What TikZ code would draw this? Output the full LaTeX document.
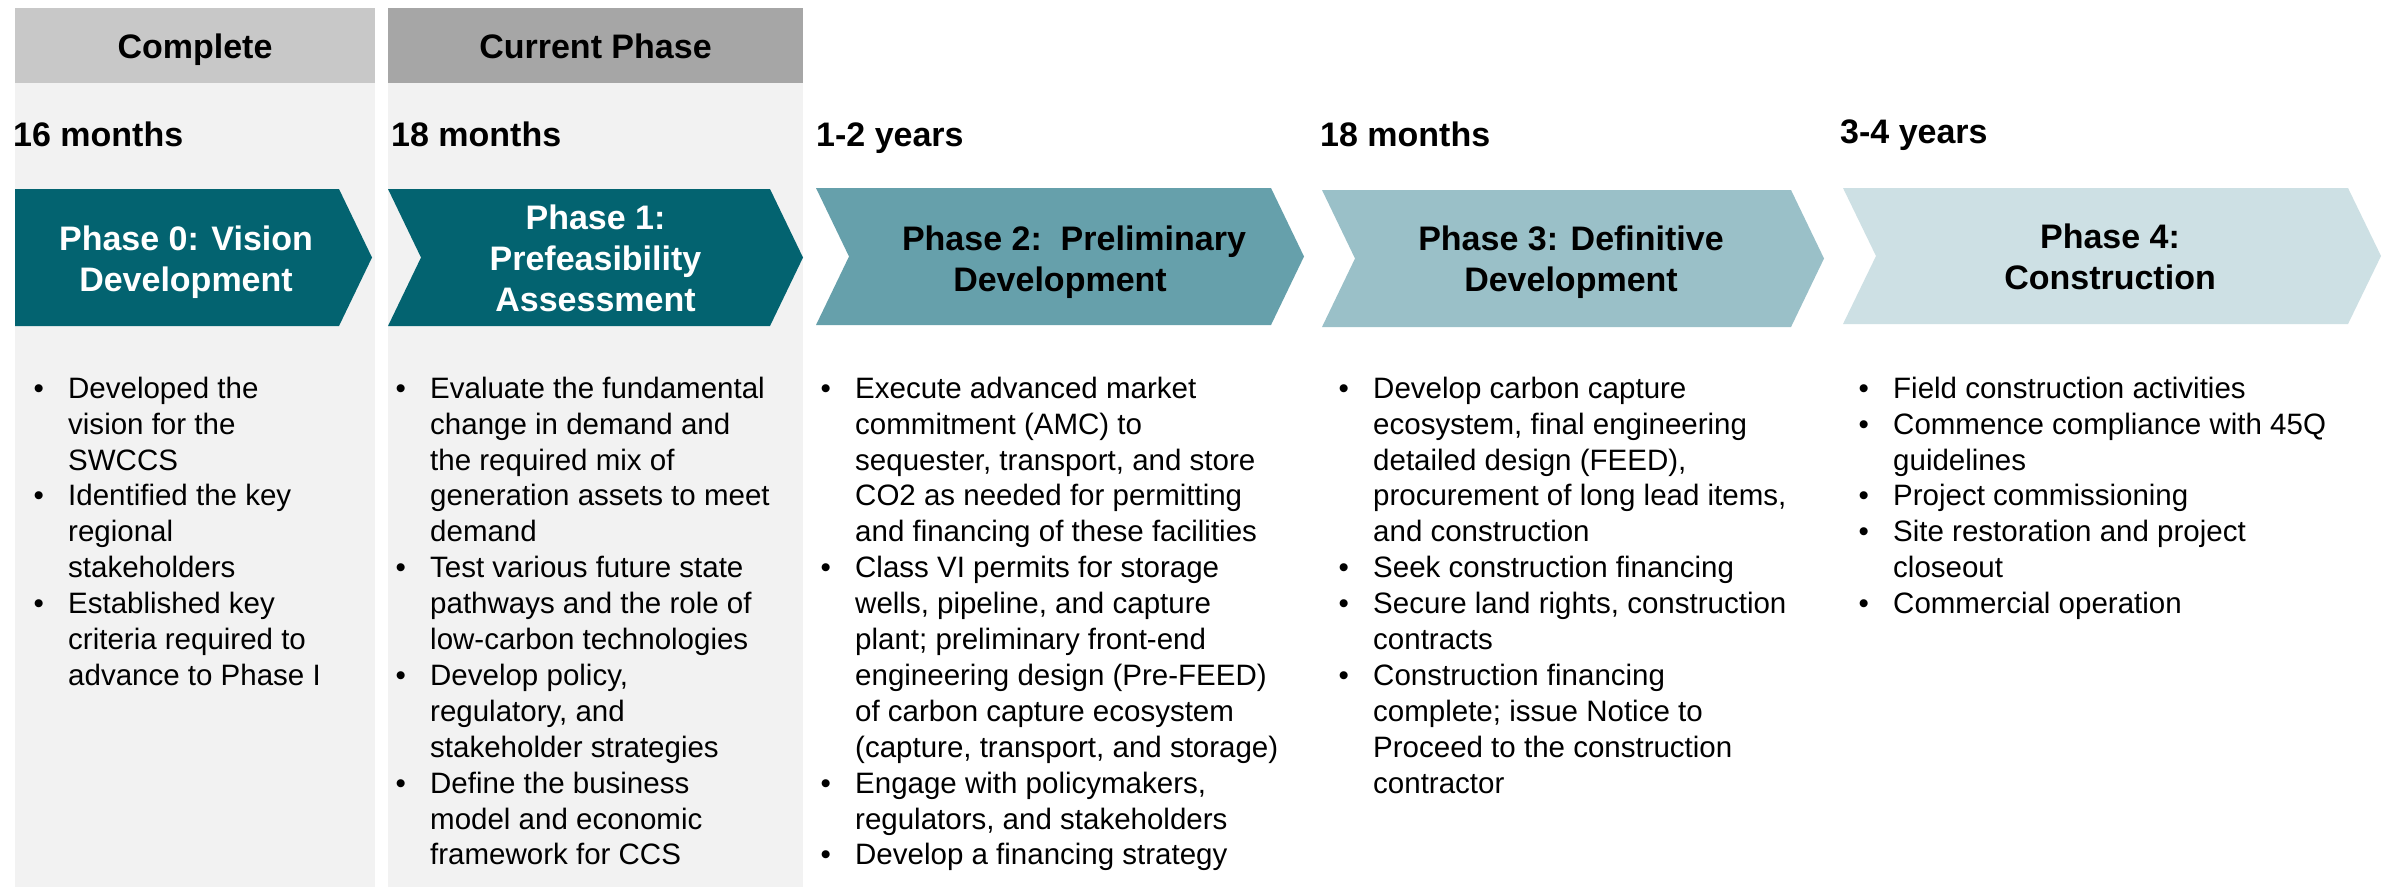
\documentclass[tikz,border=0pt]{standalone}
\usepackage{fontspec}
\setmainfont{Liberation Sans}
\definecolor{hdrdone}{HTML}{C8C8C8}
\definecolor{hdrnow}{HTML}{A6A6A6}
\definecolor{panel}{HTML}{F2F2F2}
\definecolor{tealA}{HTML}{036370}
\definecolor{tealB}{HTML}{66A0AB}
\definecolor{tealC}{HTML}{9AC0C8}
\definecolor{tealD}{HTML}{CDE0E4}
\newcommand{\phbul}{\llap{\makebox[34.5pt][l]{•}}}
\tikzset{
  heading/.style={font=\bfseries\fontsize{34}{41}\selectfont, inner sep=0pt},
  duration/.style={heading, anchor=base west},
  phasetext/.style={heading, align=center, anchor=north},
  bullets/.style={font=\fontsize{29.5}{35.9}\selectfont, align=left, anchor=north west, inner sep=0pt}
}
\begin{document}
\begin{tikzpicture}[x=1pt, y=-1pt]
\useasboundingbox (0,0) rectangle (2389,887);
\fill[white] (0,0) rectangle (2389,887);

% column backgrounds for the finished and current phases
\fill[panel] (15,83) rectangle (375,887);
\fill[panel] (388,83) rectangle (803,887);

% status headers
\fill[hdrdone] (15,8) rectangle (375,83);
\fill[hdrnow] (388,8) rectangle (803,83);
\node[heading, anchor=base] (hdone) at (195,58) {Complete};
\node[heading, anchor=base] (hnow) at (595.5,58) {Current Phase};

% durations
\node[duration] (d0) at (13,146) {16 months};
\node[duration] (d1) at (391,146) {18 months};
\node[duration] (d2) at (816,146) {1-2 years};
\node[duration] (d3) at (1320,146) {18 months};
\node[duration] (d4) at (1840,143) {3-4 years};

% phase chevrons
\fill[tealA] (15,189) -- (339,189) -- (372,257.5) -- (339,326) -- (15,326) -- cycle;
\fill[tealA] (388,189) -- (770,189) -- (803,257.5) -- (770,326) -- (388,326) -- (421,257.5) -- cycle;
\fill[tealB] (816,188) -- (1271,188) -- (1304,256.5) -- (1271,325) -- (816,325) -- (849,256.5) -- cycle;
\fill[tealC] (1322,190) -- (1791,190) -- (1824,258.5) -- (1791,327) -- (1322,327) -- (1355,258.5) -- cycle;
\fill[tealD] (1843,188) -- (2348,188) -- (2381,256) -- (2348,324) -- (1843,324) -- (1876,256) -- cycle;

\node[phasetext, text=white] (p0) at (186,222) {\strut Phase 0: Vision\\Development};
\node[phasetext, text=white] (p1) at (595.5,200.3) {\strut Phase 1:\\Prefeasibility\\Assessment};
\node[phasetext] (p2) at (1060,222) {\strut\hspace*{28pt}Phase 2:\ \ Preliminary\\Development};
\node[phasetext] (p3) at (1571,222) {\strut Phase 3: Definitive\\Development};
\node[phasetext] (p4) at (2110,219.3) {\strut Phase 4:\\Construction};

% activity lists
\node[bullets] (b0) at (68,372.9) {%
\strut\phbul Developed the\\
vision for the\\
SWCCS\\
\phbul Identified the key\\
regional\\
stakeholders\\
\phbul Established key\\
criteria required to\\
advance to Phase I};

\node[bullets] (b1) at (430,372.9) {%
\strut\phbul Evaluate the fundamental\\
change in demand and\\
the required mix of\\
generation assets to meet\\
demand\\
\phbul Test various future state\\
pathways and the role of\\
low-carbon technologies\\
\phbul Develop policy,\\
regulatory, and\\
stakeholder strategies\\
\phbul Define the business\\
model and economic\\
framework for CCS};

\node[bullets] (b2) at (855,372.9) {%
\strut\phbul Execute advanced market\\
commitment (AMC) to\\
sequester, transport, and store\\
CO2 as needed for permitting\\
and financing of these facilities\\
\phbul Class VI permits for storage\\
wells, pipeline, and capture\\
plant; preliminary front-end\\
engineering design (Pre-FEED)\\
of carbon capture ecosystem\\
(capture, transport, and storage)\\
\phbul Engage with policymakers,\\
regulators, and stakeholders\\
\phbul Develop a financing strategy};

\node[bullets] (b3) at (1373,372.9) {%
\strut\phbul Develop carbon capture\\
ecosystem, final engineering\\
detailed design (FEED),\\
procurement of long lead items,\\
and construction\\
\phbul Seek construction financing\\
\phbul Secure land rights, construction\\
contracts\\
\phbul Construction financing\\
complete; issue Notice to\\
Proceed to the construction\\
contractor};

\node[bullets] (b4) at (1893,372.9) {%
\strut\phbul Field construction activities\\
\phbul Commence compliance with 45Q\\
guidelines\\
\phbul Project commissioning\\
\phbul Site restoration and project\\
closeout\\
\phbul Commercial operation};
\end{tikzpicture}
\end{document}
